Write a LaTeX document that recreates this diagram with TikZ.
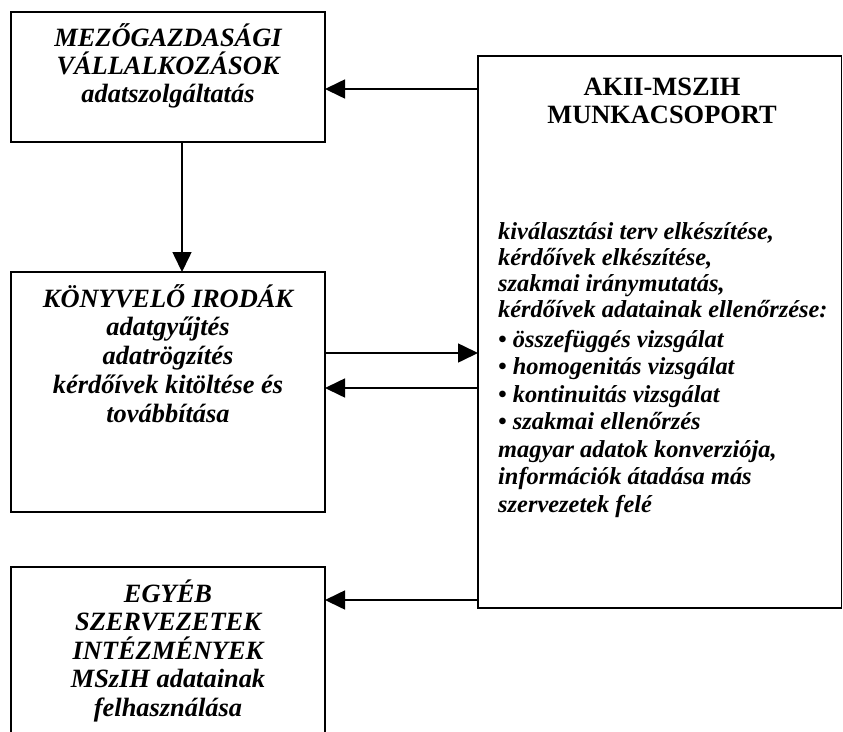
\documentclass[tikz,border=0pt]{standalone}
\usepackage{fontspec}
\setmainfont{Liberation Serif}
\usetikzlibrary{arrows.meta}
\tikzset{
  box/.style={draw=black, line width=1.6pt},
  conn/.style={line width=1.6pt, -{Triangle[length=20pt,width=19pt]}},
  headtxt/.style={inner sep=0pt, align=center, font=\fontsize{26.4}{28.6}\selectfont\bfseries\itshape},
  akiitxt/.style={inner sep=0pt, align=center, font=\fontsize{26.4}{28}\selectfont\bfseries},
  listtxt/.style={inner sep=0pt, align=left, font=\fontsize{24.4}{25.7}\selectfont\bfseries\itshape},
  bullettxt/.style={inner sep=0pt, align=left, font=\fontsize{24.4}{27.5}\selectfont\bfseries\itshape},
}
\begin{document}
\begin{tikzpicture}[x=1pt,y=-1pt]
\useasboundingbox (0,0) rectangle (843,731);
\begin{scope}
\clip (0,0) rectangle (843,731);
% boxes
\draw[box] (11,12) rectangle (325,142);
\draw[box] (11,272) rectangle (325,512);
\draw[box] (11,567) rectangle (325,760);
\draw[box] (478,56) rectangle (841.5,608);
\end{scope}
% anchor coordinates
\coordinate (b1r) at (325,89);
\coordinate (b1b) at (182,142);
\coordinate (b2t) at (182,272);
\coordinate (b2ro) at (325,353);
\coordinate (b2ri) at (325,388);
\coordinate (b3r) at (325,600);
\coordinate (mt) at (478,89);
\coordinate (mi) at (478,353);
\coordinate (mo) at (478,388);
\coordinate (mb) at (478,600);
% connectors
\draw[conn] (mt) -- (b1r);
\draw[conn] (b1b) -- (b2t);
\draw[conn] (b2ro) -- (mi);
\draw[conn] (mo) -- (b2ri);
\draw[conn] (mb) -- (b3r);
% texts (anchor = baseline of the last line)
\node[headtxt, anchor=base, font=\fontsize{26.4}{27.7}\selectfont\bfseries\itshape] (t1) at (168,102) {MEZŐGAZDASÁGI\\VÁLLALKOZÁSOK\\adatszolgáltatás};
\node[akiitxt, anchor=base] (t0) at (662,123) {AKII-MSZIH\\MUNKACSOPORT};
\node[headtxt, anchor=base, font=\fontsize{26.4}{28.7}\selectfont\bfseries\itshape] (t2) at (168,422) {KÖNYVELŐ IRODÁK\\adatgyűjtés\\adatrögzítés\\kérdőívek kitöltése és\\továbbítása};
\node[headtxt, anchor=base, font=\fontsize{26.4}{28.5}\selectfont\bfseries\itshape] (t3) at (168,716) {EGYÉB\\SZERVEZETEK\\INTÉZMÉNYEK\\MSzIH adatainak\\felhasználása};
\node[listtxt, anchor=base west] (l1) at (498,317) {kiválasztási terv elkészítése,\\kérdőívek elkészítése,\\szakmai iránymutatás,\\kérdőívek adatainak ellenőrzése:};
\node[bullettxt, anchor=base west] (l2) at (498,512) {• összefüggés vizsgálat\\• homogenitás vizsgálat\\• kontinuitás vizsgálat\\• szakmai ellenőrzés\\magyar adatok konverziója,\\információk átadása más\\szervezetek felé};
\end{tikzpicture}
\end{document}
